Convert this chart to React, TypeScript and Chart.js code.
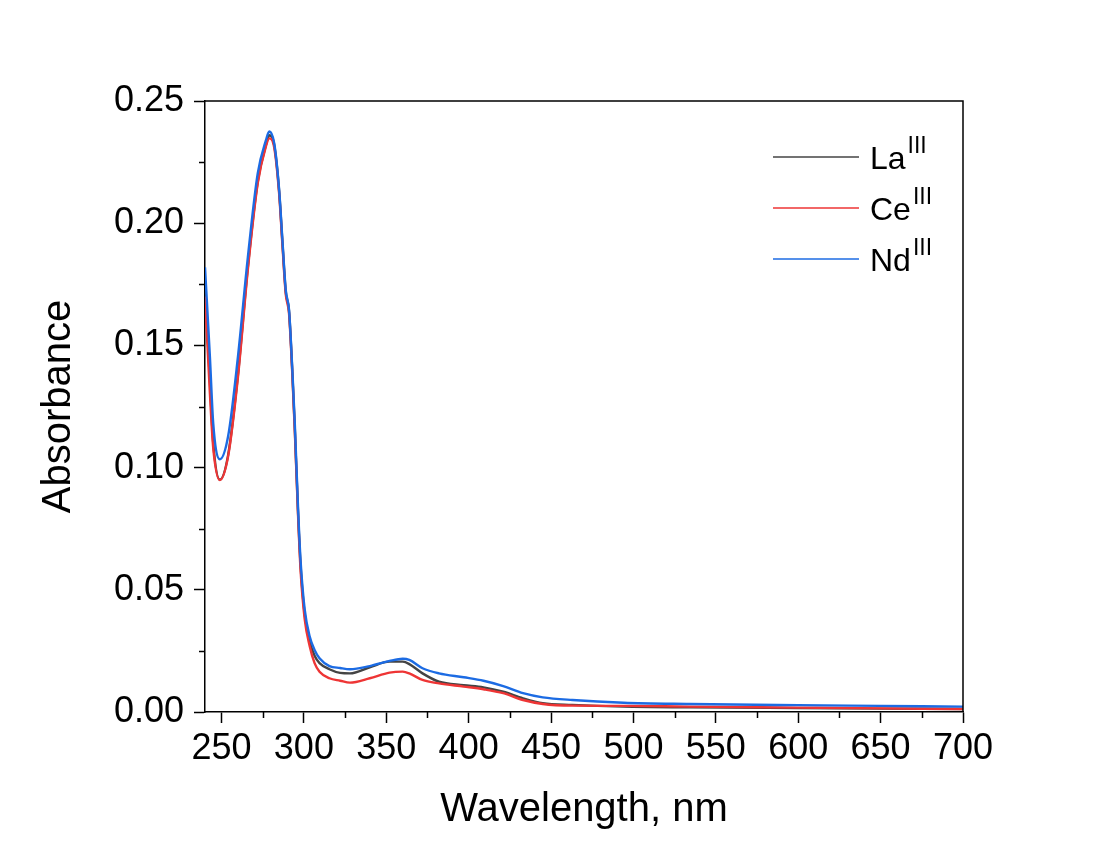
import React, { useEffect, useRef } from 'react';
import { Chart, registerables } from 'chart.js';

Chart.register(...registerables);

// Wavelength (nm)
const wavelengths = [
  240, 243, 245, 249, 254, 260, 266, 272, 277, 279, 282, 285, 287, 289, 291, 293,
  294.5, 296.5, 298, 300.5, 303.5, 306.5, 309.5, 315.5, 322, 328, 340, 352, 360, 364,
  372, 382, 397, 409, 421, 433, 445, 463, 494, 534, 600, 650, 700,
];

// Absorbance per complex
const laIII = [
  0.175, 0.135, 0.11, 0.095, 0.105, 0.138, 0.182, 0.217, 0.232, 0.236, 0.232, 0.213, 0.192, 0.172, 0.164, 0.139,
  0.116, 0.081, 0.06, 0.04, 0.029, 0.023, 0.02, 0.0175, 0.016, 0.0158, 0.0183, 0.0206, 0.0206, 0.0196,
  0.0158, 0.0124, 0.011, 0.0101, 0.0083, 0.0056, 0.0036, 0.0029, 0.0022, 0.0019, 0.0016, 0.0014, 0.0012,
];
const ceIII = [
  0.17, 0.13, 0.108, 0.0949, 0.1045, 0.137, 0.181, 0.2163, 0.2315, 0.2347, 0.231, 0.212, 0.191, 0.171, 0.163, 0.138,
  0.115, 0.08, 0.058, 0.038, 0.027, 0.02, 0.0165, 0.0138, 0.0128, 0.012, 0.0138, 0.0161, 0.0165, 0.0158,
  0.0131, 0.0117, 0.0104, 0.0093, 0.0077, 0.0049, 0.0033, 0.0026, 0.0025, 0.0022, 0.0018, 0.0015, 0.0012,
];
const ndIII = [
  0.182, 0.145, 0.118, 0.1034, 0.1127, 0.1454, 0.186, 0.2204, 0.234, 0.2375, 0.2327, 0.2136, 0.193, 0.1727, 0.1645, 0.14,
  0.118, 0.083, 0.062, 0.042, 0.031, 0.0254, 0.022, 0.0188, 0.018, 0.0175, 0.0188, 0.0209, 0.0218, 0.0213,
  0.0179, 0.0158, 0.0142, 0.0128, 0.0106, 0.0077, 0.006, 0.0049, 0.0038, 0.0033, 0.0028, 0.0025, 0.0022,
];

const seriesNames = ['La', 'Ce', 'Nd'];
const seriesSuperscript = 'III';
const seriesColors = ['#444444', '#ee3535', '#1c6be3'];

const xTickValues = [250, 300, 350, 400, 450, 500, 550, 600, 650, 700];
const xMinorTicks = [275, 325, 375, 425, 475, 525, 575, 625, 675];
const yTickValues = [0, 0.05, 0.1, 0.15, 0.2, 0.25];
const yMinorTicks = [0.025, 0.075, 0.125, 0.175, 0.225];

const FONT = 'Arial, "Liberation Sans", sans-serif';

const framePlugin = {
  id: 'frameAndMinor',
  afterDraw(chart: any) {
    const { ctx, chartArea } = chart;
    const xs = chart.scales.x;
    const ys = chart.scales.y;
    ctx.save();
    ctx.strokeStyle = '#000';
    ctx.lineWidth = 1.5;
    ctx.beginPath();
    ctx.moveTo(chartArea.left, chartArea.top);
    ctx.lineTo(chartArea.right, chartArea.top);
    ctx.lineTo(chartArea.right, chartArea.bottom);
    ctx.stroke();
    ctx.beginPath();
    for (const v of xMinorTicks) {
      const px = Math.round(xs.getPixelForValue(v)) + 0.5;
      ctx.moveTo(px, chartArea.bottom);
      ctx.lineTo(px, chartArea.bottom + 6);
    }
    for (const v of yMinorTicks) {
      const py = Math.round(ys.getPixelForValue(v)) + 0.5;
      ctx.moveTo(chartArea.left, py);
      ctx.lineTo(chartArea.left - 6, py);
    }
    ctx.stroke();
    ctx.restore();
  },
};

const legendPlugin = {
  id: 'supLegend',
  afterDraw(chart: any) {
    const { ctx, chartArea } = chart;
    const x0 = chartArea.right - 190;
    const x1 = chartArea.right - 104;
    const tx = chartArea.right - 93;
    ctx.save();
    chart.data.datasets.forEach((ds: any, i: number) => {
      const y = chartArea.top + 56 + i * 51;
      ctx.strokeStyle = ds.borderColor;
      ctx.lineWidth = 1.6;
      ctx.beginPath();
      ctx.moveTo(x0, y);
      ctx.lineTo(x1, y);
      ctx.stroke();
      ctx.fillStyle = '#000';
      ctx.textBaseline = 'alphabetic';
      ctx.textAlign = 'left';
      ctx.font = `32px ${FONT}`;
      const base = ds.baseName as string;
      ctx.fillText(base, tx, y + 12);
      const w = ctx.measureText(base).width;
      ctx.font = `23px ${FONT}`;
      ctx.fillText(ds.sup, tx + w + 2, y - 4);
    });
    ctx.restore();
  },
};

export default function App() {
  const canvasRef = useRef<HTMLCanvasElement | null>(null);

  useEffect(() => {
    document.body.style.margin = '0';
    const canvas = canvasRef.current;
    if (!canvas) return;
    const series = [laIII, ceIII, ndIII];
    const orders = [2, 1, 0];
    const datasets = series.map((vals, i) => ({
      label: seriesNames[i] + seriesSuperscript,
      baseName: seriesNames[i],
      sup: seriesSuperscript,
      data: wavelengths.map((w, j) => ({ x: w, y: vals[j] })),
      borderColor: seriesColors[i],
      backgroundColor: seriesColors[i],
      borderWidth: 2.4,
      pointRadius: 0,
      fill: false,
      cubicInterpolationMode: 'monotone' as const,
      order: orders[i],
    }));

    const chart = new Chart(canvas, {
      type: 'line',
      data: { datasets: datasets as any },
      options: {
        animation: false,
        responsive: false,
        devicePixelRatio: 1,
        layout: { padding: { top: 101, right: 138, left: 0, bottom: 0 } },
        plugins: {
          legend: { display: false },
          tooltip: { enabled: false },
        },
        scales: {
          x: {
            type: 'linear',
            min: 240,
            max: 700,
            afterBuildTicks: (scale: any) => {
              scale.ticks = xTickValues.map((v) => ({ value: v }));
            },
            afterFit: (scale: any) => {
              scale.height = 134;
            },
            grid: {
              drawOnChartArea: false,
              drawTicks: true,
              tickLength: 11,
              tickWidth: 1.5,
              tickColor: '#000',
            },
            border: { display: true, color: '#000', width: 1.5 },
            ticks: {
              color: '#000',
              padding: 4,
              maxRotation: 0,
              autoSkip: false,
              font: { family: FONT, size: 36 },
              callback: (v: any) => String(v),
            },
            title: {
              display: true,
              text: 'Wavelength, nm',
              color: '#000',
              font: { family: FONT, size: 40 },
              padding: { top: 0, bottom: 12 },
            },
          },
          y: {
            type: 'linear',
            min: 0,
            max: 0.25,
            afterBuildTicks: (scale: any) => {
              scale.ticks = yTickValues.map((v) => ({ value: v }));
            },
            afterFit: (scale: any) => {
              scale.width = 205;
            },
            grid: {
              drawOnChartArea: false,
              drawTicks: true,
              tickLength: 11,
              tickWidth: 1.5,
              tickColor: '#000',
            },
            border: { display: true, color: '#000', width: 1.5 },
            ticks: {
              color: '#000',
              padding: 10,
              autoSkip: false,
              font: { family: FONT, size: 36 },
              callback: (v: any) => Number(v).toFixed(2),
            },
            title: {
              display: true,
              text: 'Absorbance',
              color: '#000',
              font: { family: FONT, size: 40 },
              padding: { top: 35, bottom: 0 },
            },
          },
        },
      },
      plugins: [framePlugin, legendPlugin],
    });

    return () => {
      chart.destroy();
    };
  }, []);

  return (
    <div style={{ position: 'absolute', left: 0, top: 0, width: 1101, height: 846, background: '#fff' }}>
      <canvas ref={canvasRef} width={1101} height={846} />
    </div>
  );
}
